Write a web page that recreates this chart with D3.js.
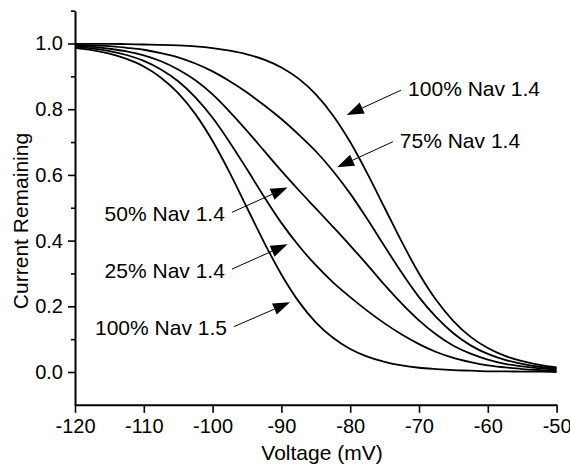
<!DOCTYPE html>
<html>
<head>
<meta charset="utf-8">
<script src="https://cdn.jsdelivr.net/npm/d3@7"></script>
<style>
  body { margin: 0; background: #fff; }
  svg { display: block; font-family: Arial, "Liberation Sans", sans-serif; }
</style>
</head>
<body>
<svg id="chart" width="570" height="464"></svg>
<script>
// data
var voltage = [-120, -117.5, -115, -112.5, -110, -107.5, -105, -102.5, -100, -97.5, -95, -92.5, -90, -87.5, -85,
               -82.5, -80, -77.5, -75, -72.5, -70, -67.5, -65, -62.5, -60, -57.5, -55, -52.5, -50];

var nav14_100 = [0.999, 0.999, 0.999, 0.998, 0.997, 0.996, 0.994, 0.991, 0.986, 0.978, 0.967, 0.951, 0.927, 0.893, 0.845,
                 0.781, 0.700, 0.604, 0.500, 0.396, 0.300, 0.219, 0.155, 0.107, 0.073, 0.049, 0.033, 0.022, 0.014];
var nav14_75 = [0.996, 0.994, 0.992, 0.987, 0.981, 0.971, 0.958, 0.939, 0.915, 0.885, 0.851, 0.812, 0.770, 0.723, 0.672,
                0.612, 0.543, 0.465, 0.383, 0.302, 0.228, 0.167, 0.118, 0.081, 0.055, 0.037, 0.025, 0.016, 0.011];
var nav14_50 = [0.993, 0.990, 0.984, 0.976, 0.964, 0.946, 0.921, 0.888, 0.845, 0.792, 0.734, 0.673, 0.612, 0.554, 0.498,
                0.442, 0.385, 0.326, 0.265, 0.208, 0.157, 0.114, 0.080, 0.056, 0.038, 0.025, 0.017, 0.011, 0.007];
var nav14_25 = [0.990, 0.985, 0.977, 0.965, 0.947, 0.921, 0.885, 0.836, 0.774, 0.699, 0.617, 0.533, 0.454, 0.385, 0.325,
                0.273, 0.228, 0.186, 0.148, 0.114, 0.085, 0.061, 0.043, 0.030, 0.020, 0.014, 0.009, 0.006, 0.004];
var nav15_100 = [0.987, 0.980, 0.969, 0.953, 0.930, 0.896, 0.849, 0.785, 0.703, 0.606, 0.500, 0.394, 0.297, 0.215, 0.151,
                 0.104, 0.070, 0.047, 0.031, 0.020, 0.013, 0.009, 0.006, 0.004, 0.002, 0.002, 0.001, 0.001, 0.000];

var series = [nav14_100, nav14_75, nav14_50, nav14_25, nav15_100];

var xTicks = [-120, -110, -100, -90, -80, -70, -60, -50];
var yTicks = [0.0, 0.2, 0.4, 0.6, 0.8, 1.0];
var yMinorTicks = [0.1, 0.3, 0.5, 0.7, 0.9, 1.1];

// annotation labels: arrow tip and tail in data units
var labels = ['100% Nav 1.4', '75% Nav 1.4', '50% Nav 1.4', '25% Nav 1.4', '100% Nav 1.5'];
var tips = [[-80.5, 0.782], [-81.9, 0.623], [-89.1, 0.562], [-89.1, 0.389], [-88.75, 0.212]];
var tails = [[-72.6, 0.858], [-73.8, 0.701], [-97.2, 0.486], [-97.2, 0.313], [-96.9, 0.138]];

var svg = d3.select('#chart');

var x = d3.scaleLinear().domain([-120, -50]).range([75, 556.6]);
var y = d3.scaleLinear().domain([-0.1, 1.1]).range([404.85, 10.65]);

// axes
var xAxis = svg.append('g')
    .attr('transform', 'translate(0,' + y(-0.1) + ')')
    .call(d3.axisBottom(x).tickValues(xTicks).tickSize(8).tickSizeOuter(0).tickPadding(6)
      .tickFormat(function (d) { return String(d); }));

var yMinor = svg.append('g')
    .attr('transform', 'translate(' + x(-120) + ',0)')
    .call(d3.axisLeft(y).tickValues(yMinorTicks).tickSize(4).tickSizeOuter(0).tickFormat(''));
yMinor.select('.domain').remove();

var yAxis = svg.append('g')
    .attr('transform', 'translate(' + x(-120) + ',0)')
    .call(d3.axisLeft(y).tickValues(yTicks).tickSize(7).tickSizeOuter(0).tickPadding(5).tickFormat(d3.format('.1f')));

svg.selectAll('.domain').attr('stroke', '#000').attr('stroke-width', 2);
svg.selectAll('.tick line').attr('stroke', '#000').attr('stroke-width', 1.6);
svg.selectAll('.tick text').attr('font-size', 20).attr('fill', '#000').attr('font-family', 'Arial, "Liberation Sans", sans-serif');
xAxis.selectAll('.tick text').attr('dy', '0.72em');

// axis titles
svg.append('text')
    .attr('x', 322)
    .attr('y', 460)
    .attr('text-anchor', 'middle')
    .attr('font-size', 21)
    .text('Voltage (mV)');

svg.append('text')
    .attr('transform', 'translate(28,221) rotate(-90)')
    .attr('text-anchor', 'middle')
    .attr('font-size', 21)
    .text('Current Remaining');

// curves
var line = d3.line()
    .x(function (d, i) { return x(voltage[i]); })
    .y(function (d) { return y(d); })
    .curve(d3.curveMonotoneX);

svg.append('g').selectAll('path')
    .data(series)
    .enter().append('path')
    .attr('d', line)
    .attr('fill', 'none')
    .attr('stroke', '#000')
    .attr('stroke-width', 1.8);

// arrows + labels
var headLen = 17, headHalf = 6;
labels.forEach(function (lab, i) {
  var tx = x(tips[i][0]), ty = y(tips[i][1]),
      sx = x(tails[i][0]), sy = y(tails[i][1]);
  var dx = tx - sx, dy = ty - sy, len = Math.sqrt(dx * dx + dy * dy),
      ux = dx / len, uy = dy / len;
  var bx = tx - ux * headLen, by = ty - uy * headLen;

  svg.append('line')
      .attr('x1', sx).attr('y1', sy)
      .attr('x2', bx).attr('y2', by)
      .attr('stroke', '#000')
      .attr('stroke-width', 1);

  svg.append('path')
      .attr('d', 'M' + tx + ',' + ty +
                 'L' + (bx - uy * headHalf) + ',' + (by + ux * headHalf) +
                 'L' + (bx + uy * headHalf) + ',' + (by - ux * headHalf) + 'Z')
      .attr('fill', '#000');

  var right = sx > tx;
  svg.append('text')
      .attr('x', right ? sx + 7 : sx - 7)
      .attr('y', sy + (right ? 6 : 8.5))
      .attr('text-anchor', right ? 'start' : 'end')
      .attr('font-size', 21)
      .text(lab);
});
</script>
</body>
</html>
